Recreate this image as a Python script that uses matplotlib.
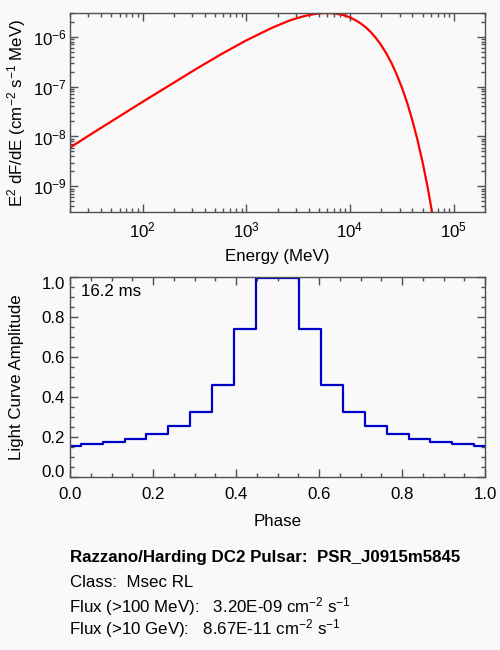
import matplotlib
matplotlib.use("Agg")
import matplotlib.pyplot as plt
from matplotlib.ticker import LogLocator, MultipleLocator, NullFormatter

plt.rcParams['font.family'] = ['Liberation Sans', 'DejaVu Sans']
plt.rcParams['mathtext.fontset'] = 'custom'
plt.rcParams['mathtext.rm'] = 'Liberation Sans'
plt.rcParams['mathtext.it'] = 'Liberation Sans:italic'
plt.rcParams['mathtext.bf'] = 'Liberation Sans:bold'
plt.rcParams['font.size'] = 12.2

# ---- data: spectrum (E^2 dF/dE) ----
energy_mev = [20, 31.6, 100, 316, 562, 1000, 1778, 2512, 2818, 3162, 3548, 3981,
              4467, 5012, 5623, 6310, 7079, 7943, 8913, 10000, 11220, 12589,
              14125, 15849, 17783, 19953, 22387, 25119, 28184, 31623, 35481,
              39811, 44668, 50119, 56234, 63096]
e2dfde = [5.98e-9, 1.10e-8, 4.94e-8, 2.15e-7, 4.37e-7, 8.47e-7, 1.52e-6, 2.05e-6,
          2.23e-6, 2.40e-6, 2.57e-6, 2.72e-6, 2.84e-6, 2.94e-6, 2.99e-6, 2.99e-6,
          2.94e-6, 2.83e-6, 2.67e-6, 2.44e-6, 2.17e-6, 1.87e-6, 1.56e-6, 1.24e-6,
          9.42e-7, 6.81e-7, 4.63e-7, 2.96e-7, 1.75e-7, 9.59e-8, 4.78e-8, 2.14e-8,
          8.57e-9, 3.01e-9, 9.12e-10, 2.34e-10]

# ---- data: light curve ----
phase = [k / 19 for k in range(20)]
amplitude = [0.158, 0.1665, 0.1765, 0.1915, 0.218, 0.258, 0.3265, 0.4615, 0.74, 0.997,
             0.997, 0.74, 0.4615, 0.3265, 0.258, 0.218, 0.1915, 0.1765, 0.1665, 0.158]

period_label = "16.2 ms"
title_line = "Razzano/Harding DC2 Pulsar:  PSR_J0915m5845"
class_line = "Class:  Msec RL"
flux100_line = r"Flux (>100 MeV):   3.20E-09 cm$^{-2}$ s$^{-1}$"
flux10g_line = r"Flux (>10 GeV):   8.67E-11 cm$^{-2}$ s$^{-1}$"

bg = '#f9f9f9'
frame = '#505050'

fig = plt.figure(figsize=(5.0, 6.5), dpi=100, facecolor=bg)

# ---------- top panel ----------
ax1 = fig.add_axes([0.14, 1 - 212 / 650, 0.83, 199 / 650])
ax1.set_facecolor(bg)
ax1.loglog(energy_mev, e2dfde, color='#ff0000', lw=1.6)
ax1.set_xlim(20, 2e5)
ax1.set_ylim(3.05e-10, 3.0e-6)
ax1.xaxis.set_major_locator(LogLocator(base=10, numticks=10))
ax1.xaxis.set_minor_locator(LogLocator(base=10, subs=range(2, 10), numticks=20))
ax1.yaxis.set_major_locator(LogLocator(base=10, numticks=10))
ax1.yaxis.set_minor_locator(LogLocator(base=10, subs=range(2, 10), numticks=20))
ax1.xaxis.set_minor_formatter(NullFormatter())
ax1.yaxis.set_minor_formatter(NullFormatter())
ax1.tick_params(which='both', direction='in', top=True, right=True, color=frame, width=1)
ax1.tick_params(which='major', length=5.5)
ax1.tick_params(which='minor', length=2.8)
ax1.tick_params(axis='x', which='major', pad=6)
ax1.tick_params(axis='y', which='major', pad=2.5)
ax1.set_xlabel("Energy (MeV)", va='center')
ax1.xaxis.set_label_coords(0.5, (212 - 257) / 199)
ax1.set_ylabel(r"E$^{2}$ dF/dE (cm$^{-2}$ s$^{-1}$ MeV)", va='center')
ax1.yaxis.set_label_coords((17 - 70) / 415, 0.5)
for s in ax1.spines.values():
    s.set_color(frame)
    s.set_linewidth(1)

# ---------- bottom panel ----------
ax2 = fig.add_axes([0.14, 1 - 477.3 / 650, 0.83, 200 / 650])
ax2.set_facecolor(bg)
ax2.step(phase, amplitude, where='mid', color='#0000c8', lw=1.6)
ax2.set_xlim(0, 1)
ax2.set_ylim(0, 1.0)
ax2.set_xticks([0, 0.2, 0.4, 0.6, 0.8, 1.0])
ax2.set_yticks([0, 0.2, 0.4, 0.6, 0.8, 1.0])
ax2.set_xticklabels(["0.0", "0.2", "0.4", "0.6", "0.8", "1.0"])
ax2.set_yticklabels(["0.0", "0.2", "0.4", "0.6", "0.8", "1.0"])
ax2.xaxis.set_minor_locator(MultipleLocator(0.05))
ax2.yaxis.set_minor_locator(MultipleLocator(0.05))
ax2.tick_params(which='both', direction='in', top=True, right=True, color=frame, width=1)
ax2.tick_params(which='major', length=5.5)
ax2.tick_params(which='minor', length=2.8)
ax2.tick_params(axis='x', which='major', pad=7)
ax2.tick_params(axis='y', which='major', pad=3.5)
yt = ax2.yaxis.get_major_ticks()
yt[0].label1.set_va('baseline')
yt[-1].label1.set_va('top')
ax2.set_xlabel("Phase", va='center')
ax2.xaxis.set_label_coords(0.5, (477.3 - 521) / 200)
ax2.set_ylabel("Light Curve Amplitude", va='center')
ax2.yaxis.set_label_coords((17 - 70) / 415, 0.5)
ax2.text((81 - 70) / 415, (477.3 - 292) / 200, period_label, transform=ax2.transAxes,
         ha='left', va='center')
for s in ax2.spines.values():
    s.set_color(frame)
    s.set_linewidth(1)

# ---------- info text ----------
fig.text(0.14, 1 - 562.3 / 650, title_line, ha='left', va='baseline', fontweight='bold')
fig.text(0.14, 1 - 587.3 / 650, class_line, ha='left', va='baseline')
fig.text(0.1375, 1 - 612.7 / 650, flux100_line, ha='left', va='baseline')
fig.text(0.1375, 1 - 634.3 / 650, flux10g_line, ha='left', va='baseline')

fig.savefig("out.png", dpi=100, facecolor=bg)
